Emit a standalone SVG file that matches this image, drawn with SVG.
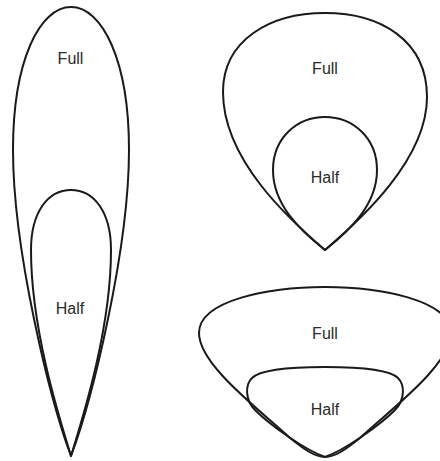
<svg xmlns="http://www.w3.org/2000/svg" width="440" height="461" viewBox="0 0 440 461">
<style>
.s{fill:none;stroke:#1a1a1a;stroke-width:2;stroke-linejoin:round}
.t{font-family:"Liberation Sans",Arial,sans-serif;font-size:16px;fill:#2a2a2a;text-anchor:middle}
</style>
<rect width="440" height="461" fill="#fff"/>
<g id="left-full">
<path class="s" d="M 71 456 C 50 400, 13 250, 13 150 C 13 60, 40 7, 71 7 C 102 7, 129 60, 129 150 C 129 250, 92 400, 71 456 Z"/>
<text class="t" x="70.5" y="64">Full</text>
</g>
<g id="left-half">
<path class="s" d="M 71 456 C 60 420, 31 330, 31 250 C 31 212, 48 190, 71 190 C 94 190, 111 212, 111 250 C 111 330, 82 420, 71 456 Z"/>
<text class="t" x="70" y="314">Half</text>
</g>
<g id="topright-full">
<path class="s" d="M 325 250 C 290 220, 223 160, 223 92 C 223 40, 270 13, 325 13 C 380 13, 427 40, 427 97 C 427 160, 360 220, 325 250 Z"/>
<text class="t" x="325" y="74">Full</text>
</g>
<g id="topright-half">
<path class="s" d="M 325 250 C 300 230, 273 205, 273 170 C 273 138, 297 117, 325 117 C 353 117, 377 138, 377 170 C 377 205, 350 230, 325 250 Z"/>
<text class="t" x="325" y="183">Half</text>
</g>
<g id="bottomright-full">
<path class="s" d="M 325 457 C 315 457, 305 450, 290 438 C 260 410, 199 365, 199 333 C 199 300, 270 287, 325 287 C 380 287, 451 300, 451 333 C 451 365, 390 410, 360 438 C 345 450, 335 457, 325 457 Z"/>
<text class="t" x="325" y="339">Full</text>
</g>
<g id="bottomright-half">
<path class="s" d="M 325 457 C 305 450, 270 425, 255 410 C 245 400, 245 385, 252 378 C 262 368, 300 367, 325 367 C 350 367, 388 368, 398 378 C 405 385, 405 400, 395 410 C 380 425, 345 450, 325 457 Z"/>
<text class="t" x="325" y="415">Half</text>
</g>
<g id="connectors"/>
</svg>
